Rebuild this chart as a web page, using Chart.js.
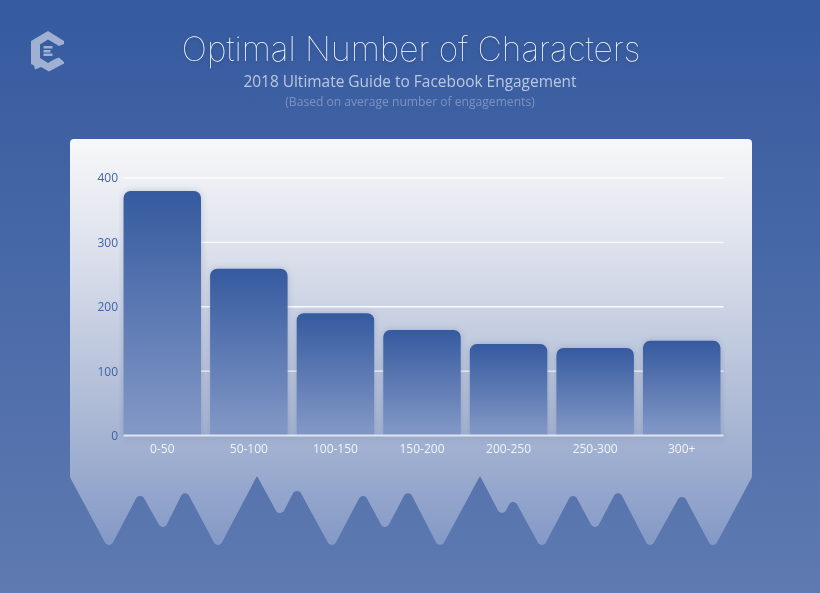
<!DOCTYPE html>
<html>
<head>
<meta charset="utf-8">
<script src="https://cdn.jsdelivr.net/npm/chart.js@4"></script>
<style>
html,body{margin:0;padding:0;width:820px;height:593px;overflow:hidden;}
#wrap{position:relative;width:820px;height:593px;background:linear-gradient(to bottom,#355a9f 0%,#5f7ab1 100%);}
#chart{position:absolute;left:0;top:0;}
.t{position:absolute;left:0;width:820px;text-align:center;white-space:nowrap;}
#title{top:30px;left:1px;font:100 33.6px Inter,sans-serif;line-height:38px;color:#fff;text-shadow:0 1px 3px rgba(30,50,100,.35);}
#sub{top:70px;font:400 15.45px "Open Sans",sans-serif;line-height:22px;color:#bcc8e0;}
#note{top:93px;font:400 12.1px "Open Sans",sans-serif;line-height:17px;color:#7d92c0;}
#logo{position:absolute;left:0;top:0;}
</style>
</head>
<body>
<div id="wrap">
  <canvas id="chart" width="820" height="593"></canvas>
  <svg id="logo" width="820" height="100">
    <path fill="#9fb0d3" d="M48 31 L64 41 L64 44 L59 46 L48 39.5 L40 44.5 L40 58 L48 63 L54 59.5 L59 57.5 L64 62 L64 63.5 L49 71.5 L41 67 L35 69.5 L34 65.5 L31 64 L31 41 Z"/>
    <path fill="#9fb0d3" d="M43.5 46h9v2.4h-9zM43.5 50h7v2.4h-7zM43.5 53.5h9v2.4h-9z"/>
  </svg>
  <div class="t" id="title">Optimal Number of Characters</div>
  <div class="t" id="sub">2018 Ultimate Guide to Facebook Engagement</div>
  <div class="t" id="note">(Based on average number of engagements)</div>
</div>
<script>
var categories = ["0-50","50-100","100-150","150-200","200-250","250-300","300+"];
var engagements = [380,259,190,164,142,136,147];
var yTicks = [0,100,200,300,400];

// jagged lower edge of the white panel, apexes before rounding
var panelEdge = [[109,550],[140,491],[163,532],[185,488],[218,550],[257,476,0],[280,518],[297,486],
    [332,550],[363,491],[385,532],[408,488],[440,550],[480,476,0],[502,518],[513,497],
    [542,550],[573,491],[595,532],[618,488],[650,550],[682,492],[713,550]];

var panelPlugin = {
    id: "panel",
    beforeDraw: function(chart){
        var c = chart.ctx;
        var g = c.createLinearGradient(0,139,0,545);
        g.addColorStop(0,"#f7f8f9");
        g.addColorStop(0.25,"#dfe3ed");
        g.addColorStop(0.7,"#a9b7d4");
        g.addColorStop(1,"#8499c6");
        c.save();
        c.beginPath();
        c.moveTo(74,139);
        c.lineTo(748,139);
        c.arcTo(752,139,752,143,4);
        c.lineTo(752,472);
        c.arcTo(752,477,750,481,6);
        var pts = panelEdge.slice().reverse();
        for(var i=0;i<pts.length;i++){
            var n = i<pts.length-1 ? pts[i+1] : [70,477];
            var r = pts[i][2]===0 ? 0.5 : 4.5;
            c.arcTo(pts[i][0],pts[i][1],n[0],n[1],r);
        }
        c.lineTo(72,481);
        c.arcTo(70,477,70,472,6);
        c.lineTo(70,143);
        c.arcTo(70,139,74,139,4);
        c.closePath();
        c.fillStyle = g;
        c.fill();
        c.restore();
    },
    beforeDatasetsDraw: function(chart){
        // grid lines stop short of the category band, so they are drawn here
        var c = chart.ctx, y = chart.scales.y;
        c.save();
        c.strokeStyle = "rgba(255,255,255,0.9)";
        c.lineWidth = 1.3;
        yTicks.forEach(function(v){
            if(v===0) return;
            var p = y.getPixelForValue(v);
            c.beginPath(); c.moveTo(123.5,p); c.lineTo(723.5,p); c.stroke();
        });
        c.shadowColor = "rgba(60,80,130,0.25)";
        c.shadowBlur = 7;
    },
    afterDatasetsDraw: function(chart){
        var c = chart.ctx, y = chart.scales.y;
        c.restore();
        c.save();
        c.shadowColor = "rgba(60,80,130,0.3)";
        c.shadowBlur = 6;
        c.shadowOffsetY = 2;
        c.strokeStyle = "#dfe4ef";
        c.lineWidth = 2;
        var p = y.getPixelForValue(0);
        c.beginPath(); c.moveTo(123.5,p); c.lineTo(723.5,p); c.stroke();
        c.restore();
    }
};

function barFill(ctx){
    if(ctx.type!=="data") return "#355a9f";
    var y = ctx.chart.scales.y;
    if(!y) return "#355a9f";
    var top = y.getPixelForValue(ctx.raw), base = y.getPixelForValue(0);
    // scales have no size yet on the first pass
    if(!isFinite(top) || !isFinite(base)) return "#355a9f";
    var g = ctx.chart.ctx.createLinearGradient(0,top,0,base);
    g.addColorStop(0,"#355a9f");
    g.addColorStop(1,"#8499c7");
    return g;
}

var chart = new Chart(document.getElementById("chart"),{
    type: "bar",
    data: {
        labels: categories,
        datasets: [{
            data: engagements,
            backgroundColor: barFill,
            borderWidth: 0,
            borderSkipped: "bottom",
            borderRadius: {topLeft:7,topRight:7,bottomLeft:0,bottomRight:0},
            barPercentage: 0.895,
            categoryPercentage: 1
        }]
    },
    options: {
        responsive: false,
        devicePixelRatio: 1,
        animation: false,
        layout: {padding:{left:0,right:95,top:178,bottom:0}},
        plugins: {legend:{display:false},tooltip:{enabled:false},title:{display:false}},
        scales: {
            x: {
                grid: {display:false,drawTicks:false},
                border: {display:false},
                ticks: {color:"#f2f4f9",font:{family:"Open Sans",size:12},padding:7,maxRotation:0,autoSkip:false},
                afterFit: function(s){ s.height = 157.5; }
            },
            y: {
                min: 0,
                max: 400,
                grid: {display:false,drawTicks:false},
                border: {display:false},
                afterBuildTicks: function(s){ s.ticks = yTicks.map(function(v){ return {value:v}; }); },
                ticks: {color:"#3f63ad",font:{family:"Open Sans",size:12},padding:1,labelOffset:1},
                afterFit: function(s){ s.width = 119; }
            }
        }
    },
    plugins: [panelPlugin]
});
chart.update();
</script>
</body>
</html>
